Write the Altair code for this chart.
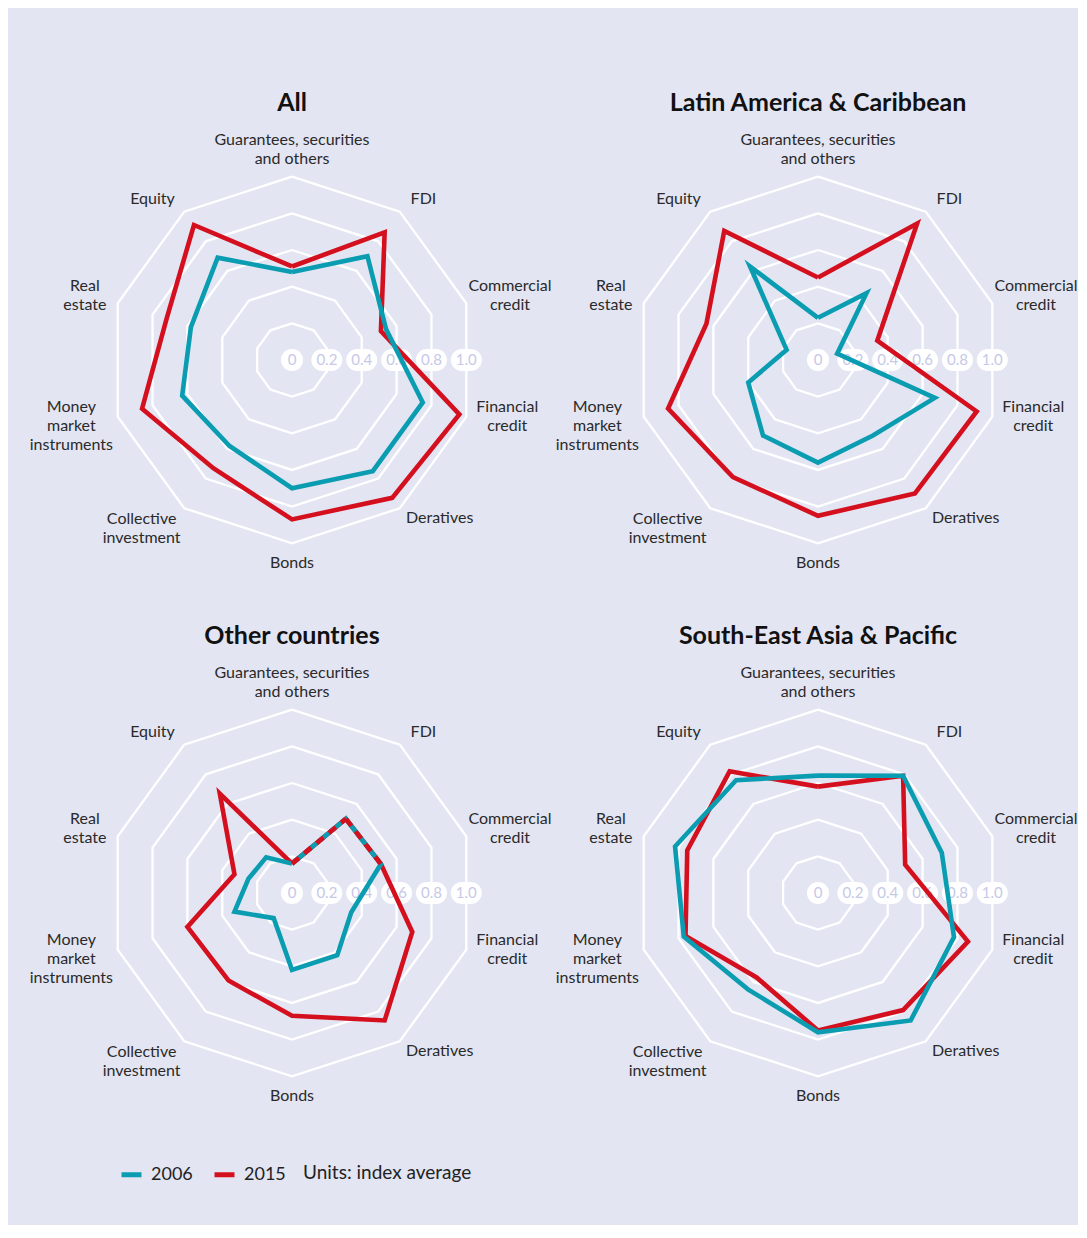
import altair as alt
import pandas as pd

# ---------------- data ----------------
axis_labels = [
    "Guarantees, securities|and others",
    "FDI",
    "Commercial|credit",
    "Financial|credit",
    "Deratives",
    "Bonds",
    "Collective|investment",
    "Money|market|instruments",
    "Real|estate",
    "Equity",
]
panels = ["All", "Latin America & Caribbean", "Other countries", "South-East Asia & Pacific"]
years = ["2006", "2015"]

all_2006 = [0.48, 0.70, 0.54, 0.75, 0.75, 0.70, 0.58, 0.63, 0.58, 0.69]
all_2015 = [0.51, 0.86, 0.51, 0.96, 0.93, 0.87, 0.73, 0.86, 0.72, 0.91]
lac_2006 = [0.23, 0.45, 0.11, 0.67, 0.51, 0.56, 0.51, 0.40, 0.18, 0.63]
lac_2015 = [0.45, 0.92, 0.34, 0.91, 0.90, 0.85, 0.79, 0.86, 0.64, 0.87]
oth_2006 = [0.16, 0.50, 0.51, 0.34, 0.42, 0.42, 0.17, 0.33, 0.25, 0.24]
oth_2015 = [0.16, 0.50, 0.51, 0.69, 0.86, 0.67, 0.59, 0.60, 0.33, 0.67]
sea_2006 = [0.64, 0.79, 0.71, 0.78, 0.86, 0.76, 0.65, 0.77, 0.82, 0.76]
sea_2015 = [0.58, 0.79, 0.50, 0.86, 0.79, 0.75, 0.57, 0.76, 0.75, 0.82]

series = {
    "All": (all_2006, all_2015),
    "Latin America & Caribbean": (lac_2006, lac_2015),
    "Other countries": (oth_2006, oth_2015),
    "South-East Asia & Pacific": (sea_2006, sea_2015),
}

ring_values = [0.2, 0.4, 0.6, 0.8, 1.0]
tick_values = [0, 0.2, 0.4, 0.6, 0.8, 1.0]
tick_labels = ["0", "0.2", "0.4", "0.6", "0.8", "1.0"]
legend_title = "Units: index average"

# ---------------- style ----------------
TEAL = "#0a9cb0"
RED = "#d4101f"
BG = "#e3e5f3"
FONT = "Lato"
R_PX = 183.3
PANEL_W = 526
PANEL_H = 532.7
LEFT_EXT = 275
XDOM = [-LEFT_EXT / R_PX, (PANEL_W - LEFT_EXT) / R_PX]
YDOM = [1.50 - PANEL_H / R_PX, 1.50]
N = len(axis_labels)


def X(field=None, datum=None):
    sc = alt.Scale(domain=XDOM, nice=False, zero=False)
    if datum is not None:
        return alt.X(datum=datum, scale=sc, axis=None)
    return alt.X(field, type="quantitative", scale=sc, axis=None)


def Y(field=None, datum=None):
    sc = alt.Scale(domain=YDOM, nice=False, zero=False)
    if datum is not None:
        return alt.Y(datum=datum, scale=sc, axis=None)
    return alt.Y(field, type="quantitative", scale=sc, axis=None)


ring_df = pd.DataFrame([{"r": r, "k": k} for r in ring_values for k in range(N + 1)])
tick_df = pd.DataFrame({"r": tick_values, "label": tick_labels})
nl = [len(s.split("|")) for s in axis_labels]
lab_df = pd.DataFrame({
    "k": list(range(N)),
    "label": axis_labels,
    "nlines": nl,
    # first lines of mirrored labels share a baseline
    "nalign": [min(nl[k], nl[(N - k) % N]) for k in range(N)],
    "wchars": [max(len(p) for p in s.split("|")) for s in axis_labels],
})

legend = alt.Legend(
    orient="none", legendX=102, legendY=1077, direction="horizontal",
    title=legend_title, titleOrient="right", titleFontWeight="normal",
    titleFontSize=19, titleFont=FONT, titleColor="#222", titlePadding=17,
    labelFontSize=18, labelFont=FONT, labelColor="#222", labelOffset=7,
    symbolType="stroke", symbolStrokeWidth=5, symbolSize=400,
    columnPadding=11, padding=0,
)
color = alt.Color("year:N", scale=alt.Scale(domain=years, range=[TEAL, RED]), legend=legend)


def poly_calc(ch):
    return ch.transform_calculate(
        a="datum.k * PI / 5"
    ).transform_calculate(
        x="datum.v * sin(datum.a)", y="datum.v * cos(datum.a)"
    )


def make_panel(name):
    v06, v15 = series[name]
    d06 = pd.DataFrame([{"year": "2006", "k": k, "v": v06[k % N]} for k in range(N + 1)])
    d15 = pd.DataFrame([{"year": "2015", "k": k, "v": v15[k % N]} for k in range(N + 1)])
    # segments where both years coincide -> drawn dashed red over teal
    ov = []
    seg = 0
    for k in range(N):
        k2 = (k + 1) % N
        if v06[k] == v15[k] and v06[k2] == v15[k2]:
            ov.append({"seg": seg, "k": k, "v": v15[k]})
            ov.append({"seg": seg, "k": k + 1, "v": v15[k2]})
            seg += 1
    dov = pd.DataFrame(ov if ov else [{"seg": 0, "k": 0, "v": 0.0}])

    rings = alt.Chart(ring_df).mark_line(color="white", strokeWidth=2.3).transform_calculate(
        a="datum.k * PI / 5"
    ).transform_calculate(
        x="datum.r * sin(datum.a)", y="datum.r * cos(datum.a)"
    ).encode(x=X("x"), y=Y("y"), detail="r:N", order="k:Q")

    tick_base = alt.Chart(tick_df).transform_calculate(
        px="datum.r * cos(PI / 10)",
        y0="0",
        hw="datum.r == 0 ? 0.0003 : 0.0246",
    ).transform_calculate(x1="datum.px - datum.hw", x2="datum.px + datum.hw")
    pills = tick_base.mark_rule(color="white", strokeWidth=22, strokeCap="round").encode(
        x=X("x1"), x2="x2:Q", y=Y("y0")
    )
    pill_text = tick_base.mark_text(font=FONT, fontSize=15, color="#c6c9e7", baseline="middle").encode(
        x=X("px"), y=Y("y0"), text="label:N"
    )

    labels = alt.Chart(lab_df).transform_calculate(
        lines="split(datum.label, '|')",
        a="datum.k * PI / 5",
    ).transform_calculate(
        s="sin(datum.a)", c="cos(datum.a)",
    ).transform_calculate(
        lx=f"abs(datum.s) > 0.1 ? (datum.s > 0 ? 1 : -1) * (1.015 * abs(datum.s) * {R_PX} + 14 + datum.wchars * 2.7) / {R_PX} : 0",
        ly=f"1.07 * datum.c + 0.025 * datum.s * datum.s + pow(datum.c, 9) * datum.nlines * 7 / {R_PX} + (datum.nalign - 1) * 9.5 / {R_PX}",
    ).mark_text(font=FONT, fontSize=16, color="#2a2a2a", lineHeight=19, align="center", baseline="middle").encode(
        x=X("lx"), y=Y("ly"), text="lines:N"
    )

    title = alt.Chart(pd.DataFrame({"t": [name]})).mark_text(
        font=FONT, fontSize=25, fontWeight="bold", color="#111", baseline="middle"
    ).encode(x=X(datum=0), y=Y(datum=1.40), text="t:N")

    red = poly_calc(alt.Chart(d15)).mark_line(strokeWidth=4.6, strokeJoin="miter").encode(
        x=X("x"), y=Y("y"), order="k:Q", color=color
    )
    teal = poly_calc(alt.Chart(d06)).mark_line(strokeWidth=4.6, strokeJoin="miter").encode(
        x=X("x"), y=Y("y"), order="k:Q", color=color
    )
    layers = [rings, pills, pill_text, labels, title, red, teal]
    if ov:
        dashed = poly_calc(alt.Chart(dov)).mark_line(
            strokeWidth=4.6, color=RED, strokeDash=[9, 7]
        ).encode(x=X("x"), y=Y("y"), order="k:Q", detail="seg:N")
        layers.append(dashed)
    return alt.layer(*layers).properties(width=PANEL_W, height=PANEL_H)


chart = alt.concat(*[make_panel(p) for p in panels], columns=2, spacing=0, bounds="flush").properties(
    background=BG,
    padding={"left": 9, "top": 77, "right": 0, "bottom": 40},
).configure_view(stroke=None, fill=None)

chart.save("out.html", embed_options={"renderer": "svg", "actions": False})
